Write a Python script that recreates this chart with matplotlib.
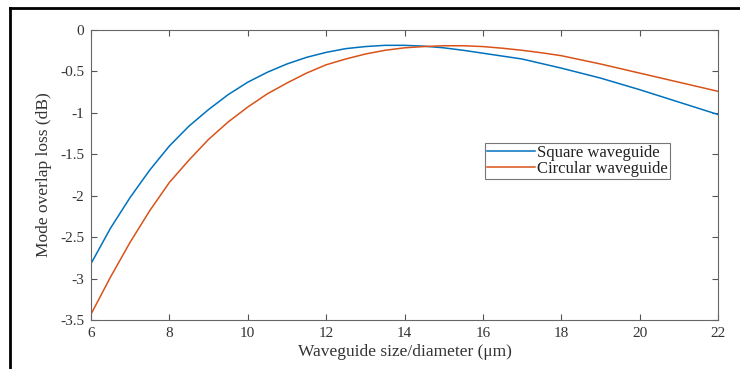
import matplotlib
matplotlib.use("Agg")
import matplotlib.pyplot as plt
from matplotlib.lines import Line2D
from matplotlib.ticker import FuncFormatter

plt.rcParams['font.family'] = ['Liberation Serif', 'DejaVu Serif']
plt.rcParams['axes.unicode_minus'] = False

# Data
square_x = [6.0, 6.5, 7.0, 7.5, 8.0, 8.5, 9.0, 9.5, 10.0, 10.5, 11.0, 11.5, 12.0, 12.5, 13.0,
            13.5, 14.0, 14.5, 15.0, 15.5, 16.0, 17.0, 18.0, 19.0, 20.0, 21.0, 22.0]
square_y = [-2.82, -2.39, -2.02, -1.69, -1.40, -1.16, -0.96, -0.78, -0.63, -0.51, -0.41, -0.33,
            -0.27, -0.225, -0.20, -0.185, -0.185, -0.195, -0.215, -0.245, -0.28, -0.35, -0.46,
            -0.58, -0.72, -0.87, -1.02]

circular_x = [6.0, 6.5, 7.0, 7.5, 8.0, 8.5, 9.0, 9.5, 10.0, 10.5, 11.0, 11.5, 12.0, 12.5, 13.0,
              13.5, 14.0, 14.5, 15.0, 15.5, 16.0, 16.5, 17.0, 17.5, 18.0, 19.0, 20.0, 21.0, 22.0]
circular_y = [-3.43, -2.98, -2.56, -2.18, -1.84, -1.57, -1.32, -1.11, -0.93, -0.77, -0.64, -0.52,
              -0.42, -0.35, -0.29, -0.245, -0.215, -0.20, -0.19, -0.19, -0.20, -0.22, -0.245,
              -0.275, -0.31, -0.41, -0.52, -0.63, -0.74]

x_ticks = [6, 8, 10, 12, 14, 16, 18, 20, 22]
y_ticks = [0, -0.5, -1, -1.5, -2, -2.5, -3, -3.5]

series_labels = ["Square waveguide", "Circular waveguide"]
x_label = "Waveguide size/diameter (\u03bcm)"
y_label = "Mode overlap loss (dB)"

fig = plt.figure(figsize=(7.4, 3.69), dpi=100)
ax = fig.add_axes([91/740, 1 - 320/369, (718 - 91)/740, (320 - 30)/369])

ax.plot(square_x, square_y, color="#0072BD", lw=1.1, label=series_labels[0])
ax.plot(circular_x, circular_y, color="#D95319", lw=1.1, label=series_labels[1])

ax.set_xlim(6, 22)
ax.set_ylim(-3.5, 0)
ax.set_xticks(x_ticks)
ax.set_yticks(y_ticks)
ax.yaxis.set_major_formatter(FuncFormatter(lambda v, pos: "%g" % v))

ax.tick_params(direction="in", top=True, right=True, length=4, width=0.8, pad=5,
               colors="#555555", labelcolor="#333333", labelsize=11)
for s in ax.spines.values():
    s.set_color("#666666")
    s.set_linewidth(0.8)

ax.set_xlabel(x_label, fontsize=12.5, color="#333333", labelpad=3)
ax.set_ylabel(y_label, fontsize=12.5, color="#333333", labelpad=6)

leg = ax.legend(loc="upper left", bbox_to_anchor=((485 - 91)/(718 - 91), 1 - (143 - 30)/290),
                fontsize=12, frameon=True, fancybox=False, borderpad=0.12,
                handlelength=2.9, handletextpad=0.1, labelspacing=0.0, borderaxespad=0)
leg.get_frame().set_edgecolor("#555555")
leg.get_frame().set_linewidth(0.8)
for t in leg.get_texts():
    t.set_color("#222222")

# Outer frame lines (top and left)
fig.add_artist(Line2D([10/740, 1.0], [1 - 8/369, 1 - 8/369], color="black", lw=2, transform=fig.transFigure))
fig.add_artist(Line2D([10/740, 10/740], [0, 1 - 8/369], color="black", lw=2, transform=fig.transFigure))

fig.savefig("out.png", dpi=100)
